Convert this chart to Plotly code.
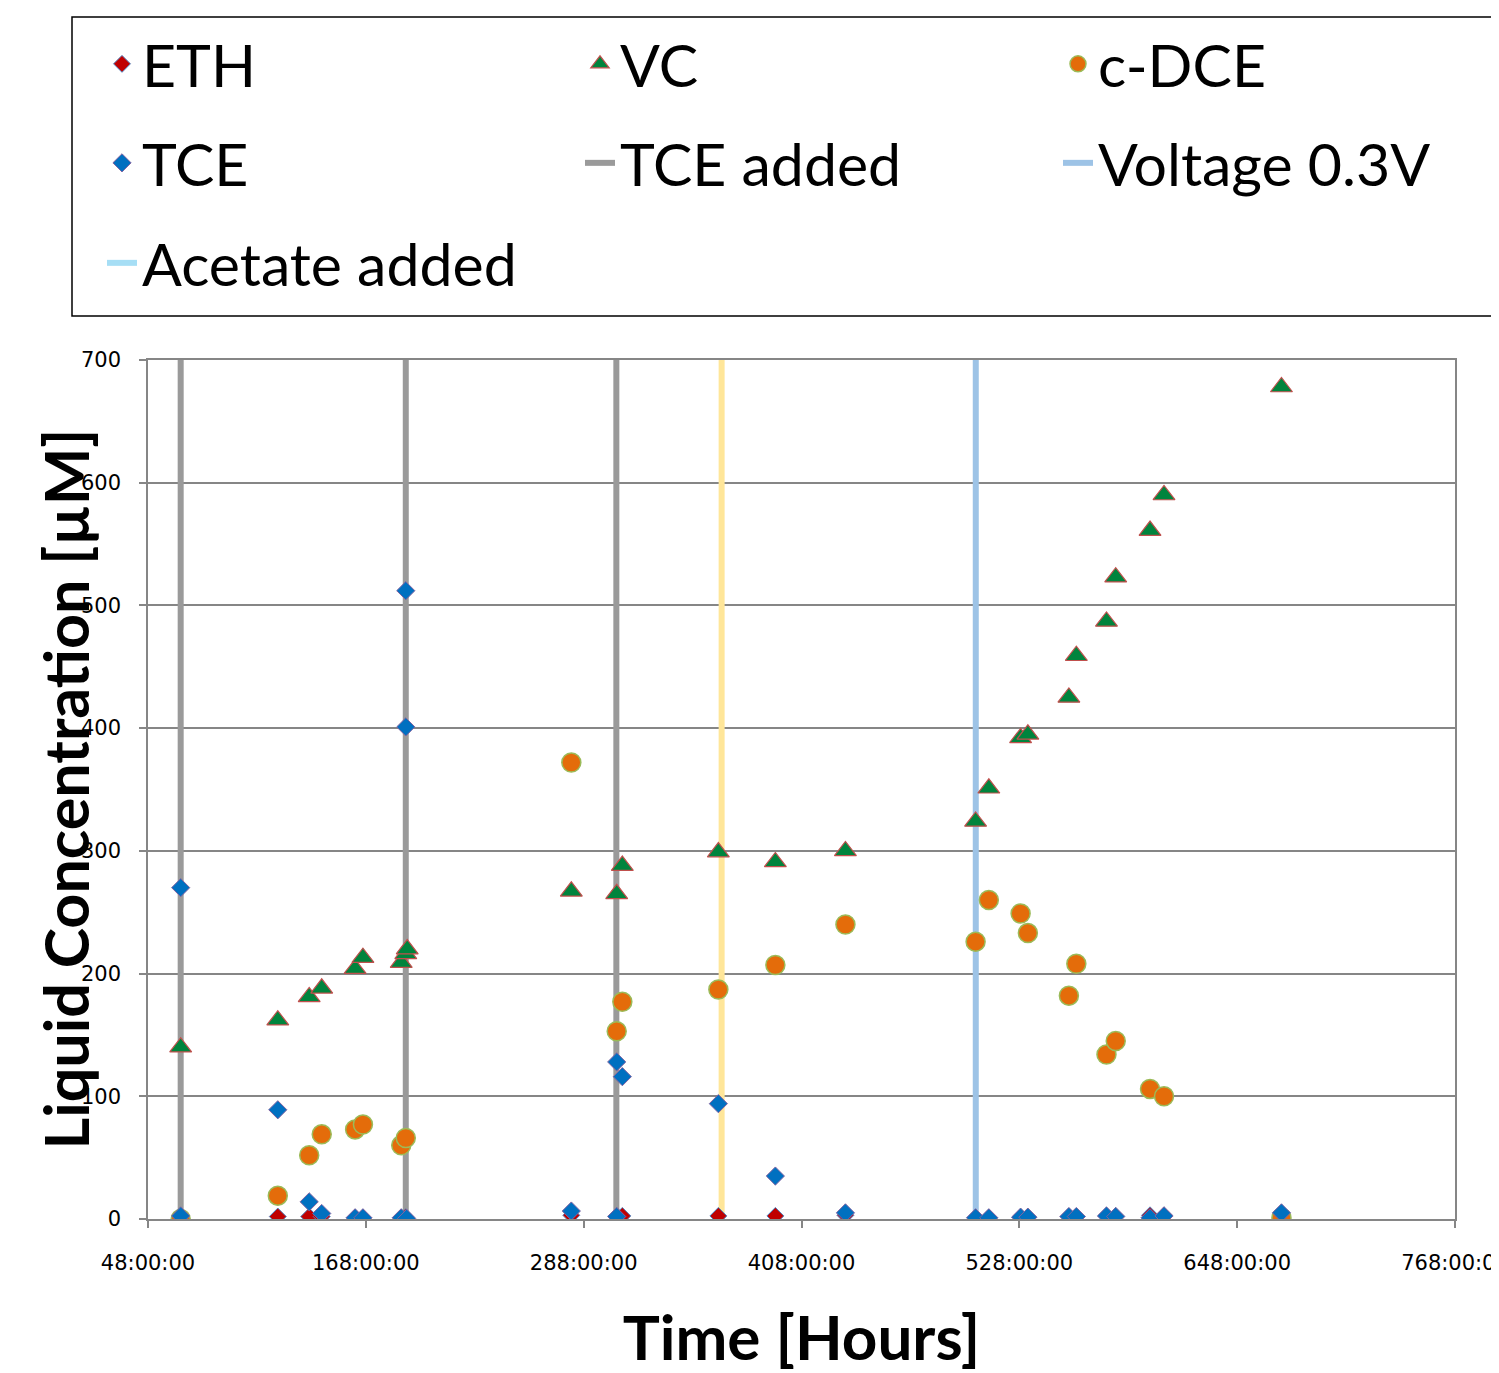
import plotly.graph_objects as go

# ---------------- data (hours, µM) ----------------
eth_t = [66.0, 119.5, 136.8, 143.7, 162.1, 166.4, 187.5, 190.0, 281.2, 306.2, 309.3,
         362.2, 393.6, 432.2, 503.9, 511.2, 528.7, 532.7, 555.3, 559.4, 576.0, 581.1,
         600.0, 607.7, 672.4]
eth_v = [1.0, 2.0, 2.0, 2.0, 1.0, 1.0, 1.0, 1.5, 3.0, 2.5, 2.5,
         2.5, 2.5, 3.0, 1.0, 1.0, 1.5, 1.5, 2.0, 2.0, 2.5, 2.5,
         3.0, 3.0, 3.0]

vc_t = [66.0, 119.5, 136.8, 143.7, 162.1, 166.4, 187.5, 190.0, 190.8, 281.2, 306.2,
        309.3, 362.2, 393.6, 432.2, 503.9, 511.2, 528.7, 532.7, 555.3, 559.4, 576.0,
        581.1, 600.0, 607.7, 672.4]
vc_v = [140, 162, 181, 188, 204, 213, 209, 216, 220, 267, 265,
        288, 299, 291, 300, 324, 351, 392, 395, 425, 459, 487,
        523, 561, 590, 678]

dce_t = [66.0, 119.5, 136.8, 143.7, 162.1, 166.4, 187.5, 190.0, 281.2, 306.2, 309.3,
         362.2, 393.6, 432.2, 503.9, 511.2, 528.7, 532.7, 555.3, 559.4, 576.0, 581.1,
         600.0, 607.7, 672.4]
dce_v = [0, 19, 52, 69, 73, 77, 60, 66, 372, 153, 177,
         187, 207, 240, 226, 260, 249, 233, 182, 208, 134, 145,
         106, 100, 1]

tce_t = [66.0, 66.0, 119.5, 136.8, 143.7, 162.1, 166.4, 187.5, 190.0, 190.0, 190.5,
         281.2, 306.2, 306.2, 309.3, 362.2, 393.6, 432.2, 503.9, 511.2, 528.7, 532.7,
         555.3, 559.4, 576.0, 581.1, 600.0, 607.7, 672.4]
tce_v = [270, 2.5, 89, 14, 4.5, 1, 1, 1, 512, 401, 0.5,
         6.5, 2, 128, 116, 94, 35, 5, 1, 1, 1.5, 1.5,
         2, 2, 2.5, 2, 1, 2.5, 5]

tce_added_t = [66.0, 190.0, 306.0]
acetate_added_t = [364.0]
voltage_t = [504.0]

y_min, y_max = 0, 700
x_tickvals = [48, 168, 288, 408, 528, 648, 768]
x_ticktext = ["48:00:00", "168:00:00", "288:00:00", "408:00:00", "528:00:00",
              "648:00:00", "768:00:00"]
y_tickvals = [0, 100, 200, 300, 400, 500, 600, 700]

# ---------------- figure ----------------
fig = go.Figure()

GRAY = "#9a9a9a"
YELLOW = "#ffe699"
BLUE = "#9dc3e6"
CYAN = "#a6def5"


def vline_xy(ts):
    xs, ys = [], []
    for t in ts:
        xs += [t, t, None]
        ys += [y_min, y_max, None]
    return xs, ys


# event lines (drawn first, behind markers)
xs, ys = vline_xy(tce_added_t)
fig.add_trace(go.Scatter(x=xs, y=ys, mode="lines", name="TCE added",
                         line=dict(color=GRAY, width=6), legend="legend2",
                         legendrank=2, hoverinfo="skip"))
xs, ys = vline_xy(acetate_added_t)
fig.add_trace(go.Scatter(x=xs, y=ys, mode="lines", name="Acetate (line)",
                         line=dict(color=YELLOW, width=6), showlegend=False,
                         hoverinfo="skip"))
xs, ys = vline_xy(voltage_t)
fig.add_trace(go.Scatter(x=xs, y=ys, mode="lines", name="Voltage 0.3V",
                         line=dict(color=BLUE, width=6), legend="legend2",
                         legendrank=3, hoverinfo="skip"))
fig.add_trace(go.Scatter(x=[None], y=[None], mode="lines", name="Acetate added",
                         line=dict(color=CYAN, width=6), legend="legend3"))

# data series
fig.add_trace(go.Scatter(x=eth_t, y=eth_v, mode="markers", name="ETH",
                         marker=dict(symbol="diamond", size=13, color="#c00000",
                                     line=dict(color="#4f81bd", width=1)),
                         legend="legend", legendrank=1))
fig.add_trace(go.Scatter(x=vc_t, y=vc_v, mode="markers", name="VC",
                         marker=dict(symbol="triangle-up", size=19, color="#00843d",
                                     line=dict(color="#c0504d", width=1.2)),
                         legend="legend", legendrank=2))
fig.add_trace(go.Scatter(x=dce_t, y=dce_v, mode="markers", name="c-DCE",
                         marker=dict(symbol="circle", size=19, color="#e46c0a",
                                     line=dict(color="#9bbb59", width=1.5)),
                         legend="legend", legendrank=3))
fig.add_trace(go.Scatter(x=tce_t, y=tce_v, mode="markers", name="TCE",
                         marker=dict(symbol="diamond", size=14, color="#0070c0",
                                     line=dict(color="#8064a2", width=1)),
                         legend="legend2", legendrank=1))

# figure geometry (page has an 8px body margin)
W, H = 1491, 1365
L, T = 140, 352
R = W - 1447
B = H - 1211
PW, PH = W - L - R, H - T - B


def px(x):
    return (x - L) / PW


def py(y):
    return (H - B - y) / PH


leg_common = dict(orientation="h", xanchor="left", yanchor="middle",
                  x=px(94), bgcolor="rgba(0,0,0,0)", borderwidth=0,
                  font=dict(family="Lato", size=59, color="black"),
                  entrywidth=433, entrywidthmode="pixels", itemsizing="trace",
                  traceorder="normal")

fig.update_layout(
    width=W, height=H,
    margin=dict(l=L, r=R, t=T, b=B, autoexpand=False),
    paper_bgcolor="white", plot_bgcolor="white",
    showlegend=True,
    legend=dict(y=py(56), **leg_common),
    legend2=dict(y=py(155), **leg_common),
    legend3=dict(y=py(255), **leg_common),
    xaxis=dict(range=[48, 768], tickvals=x_tickvals, ticktext=x_ticktext,
               showgrid=False, zeroline=False, showline=True, mirror=True,
               linecolor="#868686", linewidth=1.5, ticks="outside", ticklen=7,
               tickcolor="#868686", tickwidth=1.5, ticklabelstandoff=17,
               ticklabeloverflow="allow",
               tickfont=dict(family="DejaVu Sans", size=21, color="black"),
               title=dict(text="<b>Time [Hours]</b>", standoff=44,
                          font=dict(family="Lato", size=62, color="black"))),
    yaxis=dict(range=[y_min, y_max], tickvals=y_tickvals,
               showgrid=True, gridcolor="#868686", gridwidth=1.5,
               zeroline=False, showline=True, mirror=True,
               linecolor="#868686", linewidth=1.5, ticks="outside", ticklen=7,
               tickcolor="#868686", tickwidth=1.5, ticklabelstandoff=14,
               tickfont=dict(family="DejaVu Sans", size=21, color="black")),
    shapes=[dict(type="rect", xref="paper", yref="paper",
                 x0=px(64), x1=px(1530), y0=py(308), y1=py(9),
                 line=dict(color="black", width=1.5), fillcolor="rgba(0,0,0,0)")],
    annotations=[dict(text="<b>Liquid Concentration [µM]</b>", textangle=-90,
                      xref="paper", yref="paper", x=px(57), y=0.5,
                      xanchor="center", yanchor="middle", showarrow=False,
                      font=dict(family="Lato", size=61, color="black"))],
)

fig.write_html("out.html")
